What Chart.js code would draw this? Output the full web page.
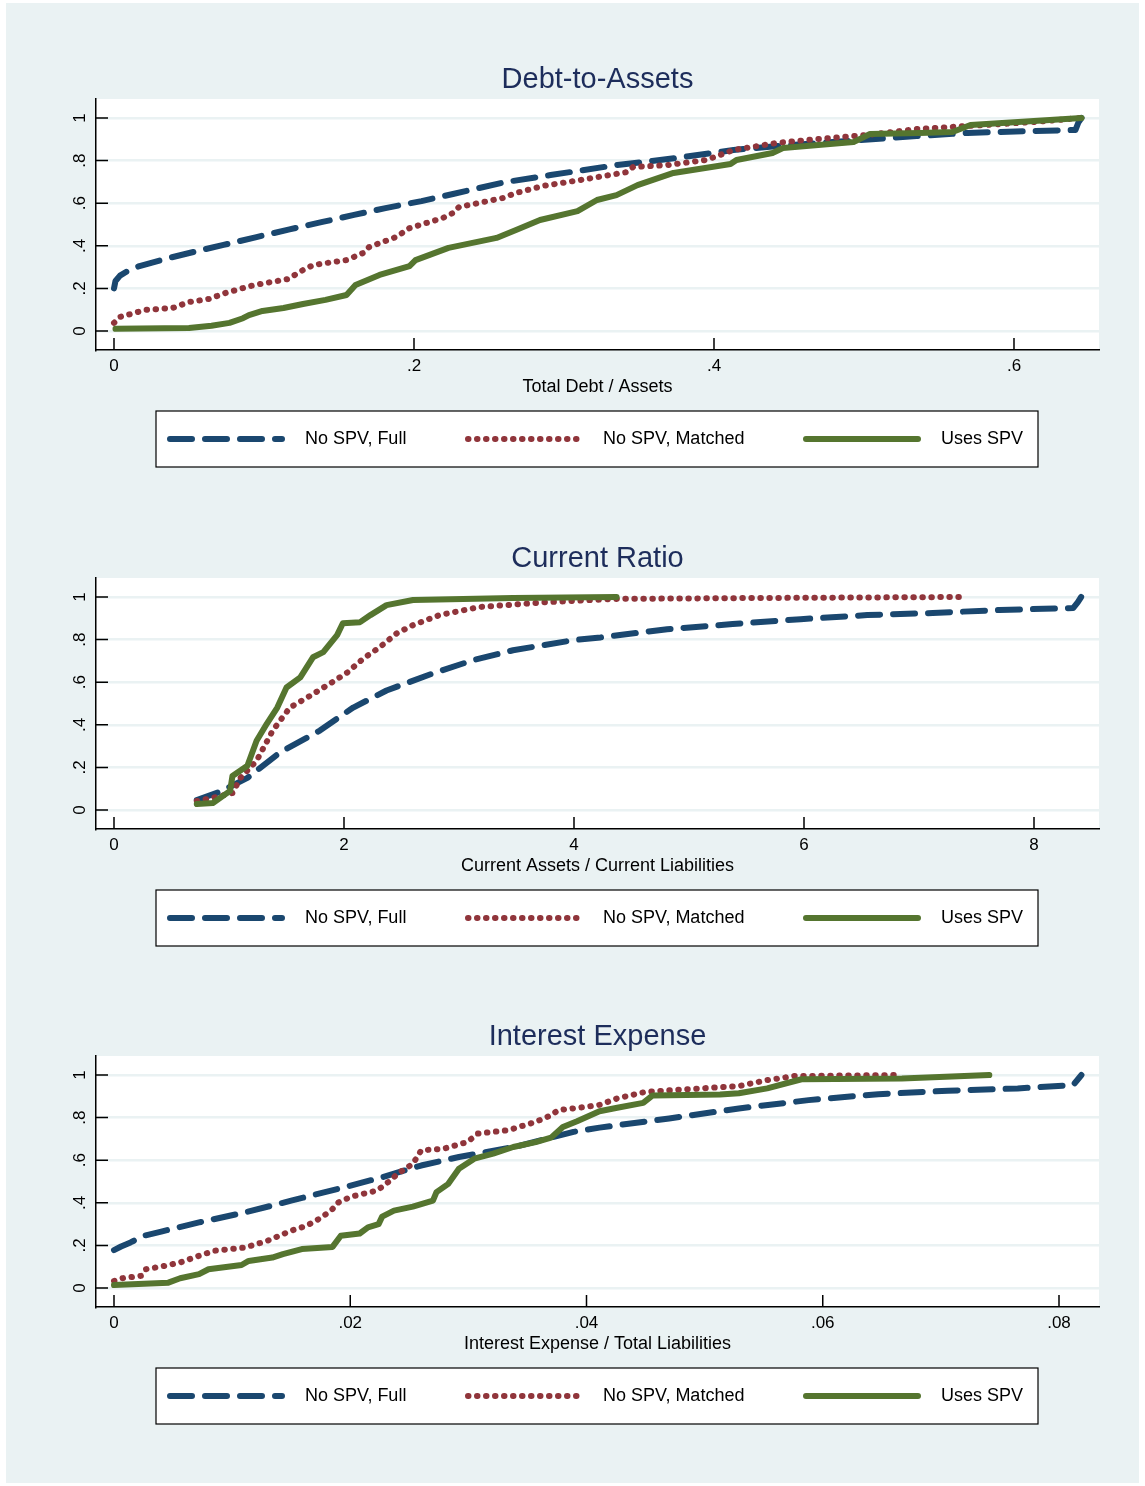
<!DOCTYPE html>
<html>
<head>
<meta charset="utf-8">
<title>CDF by SPV use</title>
<script src="https://cdn.jsdelivr.net/npm/chart.js@4.4.1/dist/chart.umd.min.js"></script>
<style>
  body { margin: 0; background: #fff; }
  #page { position: absolute; left: 6px; top: 3px; width: 1133px; height: 1480px; background: #eaf2f3; }
  .panel { position: absolute; left: 0; width: 1133px; height: 430px; }
</style>
</head>
<body>
<div id="page">
  <div class="panel" style="top:47px"><canvas id="debtChart" width="1133" height="430"></canvas></div>
  <div class="panel" style="top:526px"><canvas id="currentChart" width="1133" height="430"></canvas></div>
  <div class="panel" style="top:1004px"><canvas id="interestChart" width="1133" height="430"></canvas></div>
</div>
<script>
Chart.defaults.font.family = '"Liberation Sans", Arial, sans-serif';
Chart.defaults.color = '#000';

// series shared by all three panels
const seriesNames = ['No SPV, Full', 'No SPV, Matched', 'Uses SPV'];
const seriesColors = ['#1a476f', '#90353b', '#55752f'];
const seriesDash = [[22, 13], [0.5, 8.5], []];

// y axis (cumulative share)
const yTicks = [0, 0.2, 0.4, 0.6, 0.8, 1];
const yTickLabels = ['0', '.2', '.4', '.6', '.8', '1'];

// === Debt-to-Assets ===
const debtTicks = [0, 0.2, 0.4, 0.6];
const debtTickLabels = ['0', '.2', '.4', '.6'];
const debtFull = [[0,0.2],[0.001,0.235],[0.004,0.26],[0.008,0.277],[0.017,0.305],[0.035,0.34],[0.053,0.371],[0.073,0.404],[0.095,0.441],[0.117,0.477],[0.139,0.512],[0.16,0.545],[0.181,0.577],[0.205,0.61],[0.226,0.643],[0.26,0.698],[0.291,0.732],[0.335,0.779],[0.375,0.812],[0.413,0.85],[0.445,0.87],[0.479,0.887],[0.535,0.915],[0.569,0.93],[0.613,0.939],[0.641,0.944],[0.643,0.98],[0.645,1]];
const debtMatched = [[0,0.038],[0.004,0.066],[0.021,0.099],[0.039,0.108],[0.05,0.136],[0.063,0.15],[0.075,0.18],[0.093,0.215],[0.116,0.244],[0.126,0.286],[0.133,0.31],[0.155,0.333],[0.166,0.366],[0.17,0.394],[0.188,0.441],[0.197,0.483],[0.219,0.53],[0.226,0.554],[0.23,0.582],[0.259,0.624],[0.268,0.648],[0.286,0.681],[0.311,0.709],[0.342,0.746],[0.346,0.77],[0.369,0.779],[0.395,0.803],[0.413,0.85],[0.442,0.883],[0.469,0.901],[0.502,0.92],[0.535,0.948],[0.575,0.965],[0.613,0.981],[0.644,1]];
const debtSpv = [[0.001,0.01],[0.05,0.014],[0.065,0.025],[0.077,0.038],[0.086,0.06],[0.09,0.075],[0.099,0.094],[0.113,0.108],[0.126,0.127],[0.141,0.146],[0.155,0.169],[0.161,0.216],[0.177,0.263],[0.197,0.305],[0.201,0.333],[0.223,0.39],[0.255,0.437],[0.268,0.474],[0.284,0.521],[0.309,0.563],[0.322,0.615],[0.335,0.638],[0.349,0.685],[0.373,0.742],[0.411,0.784],[0.415,0.803],[0.439,0.836],[0.446,0.859],[0.493,0.887],[0.504,0.925],[0.537,0.93],[0.559,0.934],[0.571,0.967],[0.645,1]];

// === Current Ratio ===
const crTicks = [0, 2, 4, 6, 8];
const crTickLabels = ['0', '2', '4', '6', '8'];
const crFull = [[0.72,0.047],[0.92,0.085],[1.16,0.151],[1.44,0.269],[1.79,0.373],[2.08,0.481],[2.37,0.561],[2.77,0.641],[3.12,0.703],[3.47,0.75],[3.99,0.797],[4.23,0.81],[4.81,0.849],[5.38,0.873],[5.97,0.896],[6.55,0.915],[7.12,0.925],[7.7,0.939],[8.34,0.948],[8.38,0.975],[8.41,1]];
const crMatched = [[0.72,0.042],[0.86,0.057],[1.03,0.08],[1.1,0.151],[1.24,0.231],[1.38,0.373],[1.53,0.481],[1.68,0.528],[1.88,0.594],[2.03,0.646],[2.17,0.712],[2.31,0.764],[2.46,0.83],[2.6,0.868],[2.83,0.915],[3.18,0.953],[3.77,0.976],[4.34,0.991],[5.5,0.995],[7.37,1]];
const crSpv = [[0.72,0.028],[0.86,0.033],[1.01,0.09],[1.03,0.16],[1.16,0.208],[1.24,0.325],[1.33,0.406],[1.42,0.481],[1.5,0.575],[1.62,0.623],[1.73,0.717],[1.82,0.741],[1.94,0.821],[1.99,0.877],[2.14,0.882],[2.23,0.915],[2.37,0.962],[2.6,0.986],[3.47,0.995],[4.37,1]];

// === Interest Expense ===
const ieTicks = [0, 0.02, 0.04, 0.06, 0.08];
const ieTickLabels = ['0', '.02', '.04', '.06', '.08'];
const ieFull = [[0,0.178],[0.0006,0.195],[0.0014,0.214],[0.0025,0.245],[0.004,0.265],[0.0072,0.308],[0.0111,0.355],[0.015,0.41],[0.0195,0.473],[0.0227,0.52],[0.026,0.575],[0.0292,0.615],[0.0341,0.665],[0.0389,0.733],[0.0411,0.753],[0.047,0.796],[0.0529,0.843],[0.0588,0.882],[0.0647,0.91],[0.0706,0.926],[0.0765,0.937],[0.0812,0.953],[0.0819,1]];
const ieMatched = [[0,0.033],[0.0007,0.046],[0.0023,0.057],[0.0027,0.088],[0.0043,0.104],[0.0056,0.12],[0.0072,0.151],[0.0085,0.175],[0.0111,0.19],[0.013,0.222],[0.015,0.269],[0.0163,0.292],[0.0176,0.332],[0.0185,0.371],[0.019,0.402],[0.0201,0.429],[0.0223,0.458],[0.0234,0.505],[0.024,0.536],[0.0253,0.583],[0.026,0.646],[0.0279,0.654],[0.0299,0.685],[0.0308,0.725],[0.0334,0.741],[0.0357,0.78],[0.037,0.811],[0.0376,0.835],[0.0399,0.85],[0.0411,0.86],[0.0426,0.89],[0.045,0.921],[0.0529,0.948],[0.0553,0.976],[0.0576,0.995],[0.0667,1]];
const ieSpv = [[0,0.014],[0.0046,0.025],[0.0056,0.046],[0.0072,0.065],[0.008,0.088],[0.0108,0.108],[0.0114,0.127],[0.0134,0.143],[0.0143,0.159],[0.0159,0.183],[0.0185,0.193],[0.0192,0.245],[0.0208,0.256],[0.0215,0.285],[0.0224,0.3],[0.0227,0.335],[0.0237,0.363],[0.0253,0.382],[0.027,0.41],[0.0273,0.45],[0.0283,0.489],[0.0292,0.56],[0.0305,0.607],[0.0321,0.631],[0.0338,0.662],[0.0357,0.685],[0.037,0.706],[0.038,0.756],[0.0392,0.783],[0.0411,0.83],[0.0426,0.846],[0.0448,0.869],[0.0456,0.904],[0.0513,0.909],[0.0529,0.914],[0.0553,0.937],[0.0582,0.98],[0.0667,0.984],[0.0741,1]];

// stata-like decoration: white plot region, inward ticks, rotated y labels, title, boxed legend
const stataDecor = {
  id: 'stataDecor',
  beforeDraw(chart) {
    const {ctx, chartArea: a} = chart;
    ctx.save();
    ctx.fillStyle = '#fff';
    ctx.fillRect(a.left, a.top, a.right - a.left, a.bottom - a.top);
    ctx.restore();
  },
  beforeDatasetsDraw(chart) {
    const {ctx, chartArea: a, scales: {x, y}} = chart;
    ctx.save();
    ctx.strokeStyle = '#000';
    ctx.lineWidth = 1.5;
    ctx.beginPath();
    y.ticks.forEach(t => {
      const py = y.getPixelForValue(t.value);
      ctx.moveTo(a.left, py);
      ctx.lineTo(a.left + 12, py);
    });
    x.ticks.forEach(t => {
      const px = x.getPixelForValue(t.value);
      ctx.moveTo(px, a.bottom);
      ctx.lineTo(px, a.bottom - 12);
    });
    ctx.stroke();
    ctx.restore();
  },
  afterDraw(chart, args, opts) {
    const {ctx, chartArea: a, scales: {y}} = chart;
    ctx.save();

    // title
    ctx.fillStyle = '#1d2d5b';
    ctx.font = '29px "Liberation Sans", Arial, sans-serif';
    ctx.textAlign = 'center';
    ctx.textBaseline = 'middle';
    ctx.fillText(opts.title, (a.left + a.right) / 2, a.top - 19);

    // y tick labels, rotated
    ctx.fillStyle = '#000';
    ctx.font = '17px "Liberation Sans", Arial, sans-serif';
    y.ticks.forEach((t, i) => {
      ctx.save();
      ctx.translate(a.left - 16, y.getPixelForValue(t.value));
      ctx.rotate(-Math.PI / 2);
      ctx.fillText(yTickLabels[i], 0, 0);
      ctx.restore();
    });

    // legend box
    const lx = a.left + 60, ly = a.bottom + 61, lw = 882, lh = 56;
    ctx.fillStyle = '#fff';
    ctx.fillRect(lx, ly, lw, lh);
    ctx.strokeStyle = '#000';
    ctx.lineWidth = 1.2;
    ctx.strokeRect(lx, ly, lw, lh);
    const cy = ly + lh / 2;
    const sampleLeft = [lx + 14, lx + 312, lx + 650];
    ctx.font = '18px "Liberation Sans", Arial, sans-serif';
    ctx.textAlign = 'left';
    chart.data.datasets.forEach((ds, i) => {
      ctx.strokeStyle = ds.borderColor;
      ctx.lineWidth = 6;
      ctx.lineCap = 'round';
      ctx.setLineDash(ds.borderDash);
      ctx.beginPath();
      ctx.moveTo(sampleLeft[i], cy);
      ctx.lineTo(sampleLeft[i] + 112, cy);
      ctx.stroke();
      ctx.setLineDash([]);
      ctx.fillStyle = '#000';
      ctx.fillText(ds.label, sampleLeft[i] + 135, cy);
    });
    ctx.restore();
  }
};

const yMin = -0.0892, yMax = 1.0892;

function createCdfChart(canvasId, title, xTitle, xMin, xMax, xTicks, xTickLabels, series) {
  const canvas = document.getElementById(canvasId);
  if (!canvas) return;
  const ctx = canvas.getContext('2d');

  new Chart(ctx, {
    type: 'line',
    data: {
      datasets: series.map((pts, i) => ({
        label: seriesNames[i],
        data: pts.map(p => ({x: p[0], y: p[1]})),
        borderColor: seriesColors[i],
        borderWidth: 6,
        borderDash: seriesDash[i],
        borderCapStyle: 'round',
        borderJoinStyle: 'round',
        pointRadius: 0,
        tension: 0,
        fill: false,
        order: 2 - i
      }))
    },
    options: {
      responsive: false,
      animation: false,
      layout: { padding: { left: 0, right: 40, top: 49, bottom: 82 } },
      plugins: {
        legend: { display: false },
        tooltip: { enabled: false },
        stataDecor: { title: title }
      },
      scales: {
        x: {
          type: 'linear',
          min: xMin,
          max: xMax,
          afterBuildTicks: s => { s.ticks = xTicks.map(v => ({value: v})); },
          afterFit: s => { s.height = 48; },
          grid: { display: false, drawTicks: false },
          border: { display: true, color: '#000', width: 1.5 },
          ticks: {
            padding: 6,
            autoSkip: false,
            maxRotation: 0,
            color: '#000',
            font: { size: 17 },
            callback: (v, i) => xTickLabels[i]
          },
          title: { display: true, text: xTitle, color: '#000', font: { size: 18 }, padding: 0 }
        },
        y: {
          type: 'linear',
          min: yMin,
          max: yMax,
          afterBuildTicks: s => { s.ticks = yTicks.map(v => ({value: v})); },
          afterFit: s => { s.width = 90; },
          grid: { color: '#eaf2f3', lineWidth: 2.5, drawTicks: false },
          border: { display: true, color: '#000', width: 1.5 },
          ticks: { display: false }
        }
      }
    },
    plugins: [stataDecor]
  });
}

createCdfChart('debtChart', 'Debt-to-Assets', 'Total Debt / Assets',
  -0.012, 0.65667, debtTicks, debtTickLabels, [debtFull, debtMatched, debtSpv]);
createCdfChart('currentChart', 'Current Ratio', 'Current Assets / Current Liabilities',
  -0.1565, 8.5652, crTicks, crTickLabels, [crFull, crMatched, crSpv]);
createCdfChart('interestChart', 'Interest Expense', 'Interest Expense / Total Liabilities',
  -0.0015238, 0.083386, ieTicks, ieTickLabels, [ieFull, ieMatched, ieSpv]);
</script>
</body>
</html>
